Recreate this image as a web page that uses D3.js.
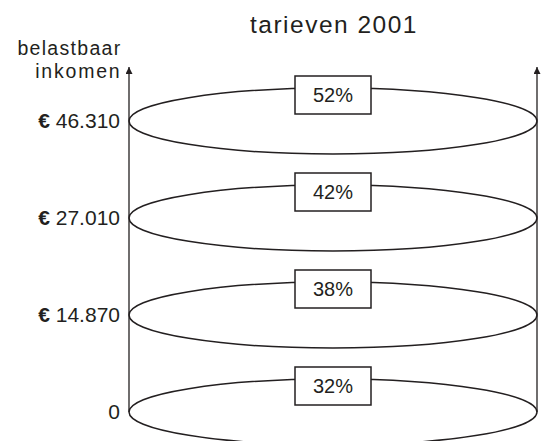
<!DOCTYPE html>
<html>
<head>
<meta charset="utf-8">
<script src="https://cdn.jsdelivr.net/npm/d3@7"></script>
<style>
  body { margin: 0; background: #fff; }
  svg { display: block; }
  text { font-family: "Liberation Sans", Arial, sans-serif; fill: #231f20; }
</style>
</head>
<body>
<svg id="canvas" width="547" height="441"></svg>
<script>
// schijfgrenzen (belastbaar inkomen) en tarieven, van onder naar boven
let bracketValues = [0, 14870, 27010, 46310];
let bracketLabels = ["0", "€ 14.870", "€ 27.010", "€ 46.310"];
let rates = [32, 38, 42, 52];
let title = "tarieven 2001";
let axisTitle = ["belastbaar", "inkomen"];

let canvas = d3.select("#canvas");
let ink = "#231f20";

let xLeft = 129;
let xRight = 537;
let axisTop = 67;

let y = d3.scalePoint()
  .domain(bracketValues)
  .range([412, 121]);

let x = d3.scaleLinear()
  .domain([0, 1])
  .range([xLeft, xRight]);

let rx = (x(1) - x(0)) / 2;
let ry = 33;

canvas.append("defs")
  .append("marker")
  .attr("id", "arrow")
  .attr("viewBox", "0 0 10 10")
  .attr("refX", 10)
  .attr("refY", 5)
  .attr("markerWidth", 8)
  .attr("markerHeight", 7)
  .attr("markerUnits", "userSpaceOnUse")
  .attr("orient", "auto")
  .append("path")
  .attr("d", "M0,0 L10,5 L0,10 Z")
  .attr("fill", ink);

// titel
canvas.append("text")
  .attr("x", x(0.5) + 1)
  .attr("y", 33)
  .attr("text-anchor", "middle")
  .style("font-size", "24.5px")
  .style("letter-spacing", "1.5px")
  .text(title);

// as-titel
canvas.selectAll(".axis-title")
  .data(axisTitle)
  .enter()
  .append("text")
  .attr("class", "axis-title")
  .attr("x", 121.5)
  .attr("y", (d, i) => 55 + i * 23)
  .attr("text-anchor", "end")
  .style("font-size", "19.5px")
  .style("letter-spacing", (d, i) => i === 0 ? "1.3px" : "1.8px")
  .text((d) => d);

// verticale lijnen met pijl
[x(0), x(1)].forEach((xp) => {
  canvas.append("line")
    .attr("x1", xp)
    .attr("x2", xp)
    .attr("y1", y(bracketValues[0]))
    .attr("y2", axisTop)
    .attr("stroke", ink)
    .attr("stroke-width", 1.3)
    .attr("marker-end", "url(#arrow)");
});

// ellipsen
canvas.selectAll("ellipse")
  .data(bracketValues)
  .enter()
  .append("ellipse")
  .attr("cx", x(0.5))
  .attr("cy", (d) => y(d))
  .attr("rx", rx)
  .attr("ry", ry)
  .attr("fill", "none")
  .attr("stroke", ink)
  .attr("stroke-width", 1.5);

// tarief-hokjes
let boxW = 76;
let boxH = 38;
let boxes = canvas.selectAll(".rate")
  .data(rates)
  .enter()
  .append("g")
  .attr("class", "rate")
  .attr("transform", (d, i) => "translate(" + x(0.5) + "," + (y(bracketValues[i]) - ry + 7) + ")");

boxes.append("rect")
  .attr("x", -boxW / 2)
  .attr("y", -boxH / 2)
  .attr("width", boxW)
  .attr("height", boxH)
  .attr("fill", "#fff")
  .attr("stroke", ink)
  .attr("stroke-width", 1.5);

boxes.append("text")
  .attr("text-anchor", "middle")
  .attr("dy", "0.36em")
  .style("font-size", "20px")
  .text((d) => d + "%");

// as met schijfgrenzen
let axis = d3.axisLeft(y)
  .tickSize(0)
  .tickPadding(9)
  .tickFormat((d, i) => bracketLabels[i]);

let axisG = canvas.append("g")
  .attr("transform", "translate(" + x(0) + ",0)")
  .call(axis);

axisG.select(".domain").remove();
axisG.selectAll("text")
  .attr("fill", ink)
  .style("font-family", "'Liberation Sans', Arial, sans-serif")
  .style("font-size", "21px")
  .each(function (d, i) {
    let label = bracketLabels[i];
    let t = d3.select(this).text(null);
    if (label.startsWith("€")) {
      t.append("tspan").style("font-weight", "bold").text("€ ");
      t.append("tspan").text(label.slice(2));
    } else {
      t.text(label);
    }
  });
</script>
</body>
</html>
